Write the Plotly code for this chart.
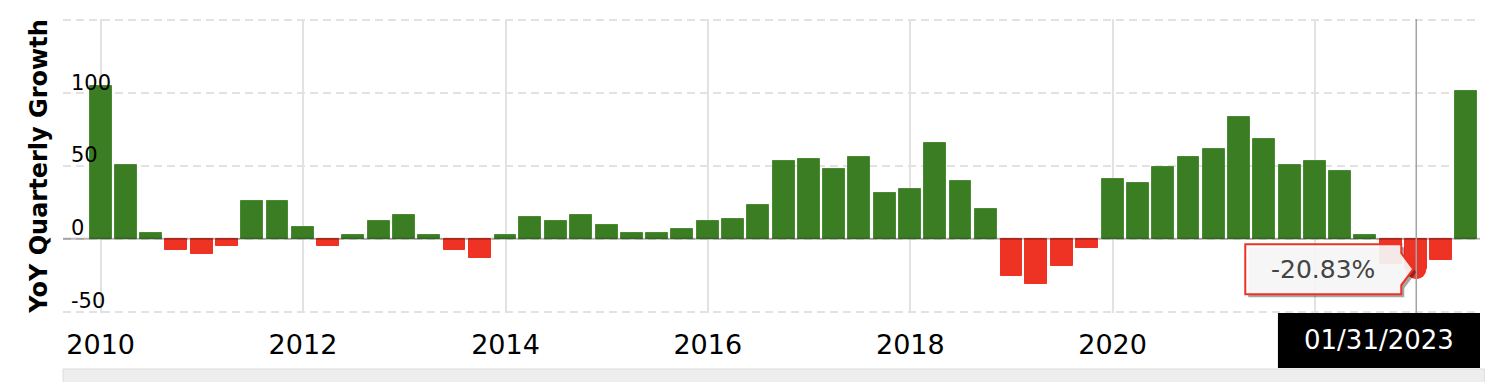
import pandas as pd
import plotly.graph_objects as go

# ---- data ----
dates = [
    "2010-01-31", "2010-04-30", "2010-07-31", "2010-10-31",
    "2011-01-31", "2011-04-30", "2011-07-31", "2011-10-31",
    "2012-01-31", "2012-04-30", "2012-07-31", "2012-10-31",
    "2013-01-31", "2013-04-30", "2013-07-31", "2013-10-31",
    "2014-01-31", "2014-04-30", "2014-07-31", "2014-10-31",
    "2015-01-31", "2015-04-30", "2015-07-31", "2015-10-31",
    "2016-01-31", "2016-04-30", "2016-07-31", "2016-10-31",
    "2017-01-31", "2017-04-30", "2017-07-31", "2017-10-31",
    "2018-01-31", "2018-04-30", "2018-07-31", "2018-10-31",
    "2019-01-31", "2019-04-30", "2019-07-31", "2019-10-31",
    "2020-01-31", "2020-04-30", "2020-07-31", "2020-10-31",
    "2021-01-31", "2021-04-30", "2021-07-31", "2021-10-31",
    "2022-01-31", "2022-04-30", "2022-07-31", "2022-10-31",
    "2023-01-31", "2023-04-30", "2023-07-31",
]
growth = [
    104.6, 50.9, 4.3, -7.8, -10.6, -5.1, 26.3, 26.3, 8.4, -5.1,
    2.9, 12.5, 16.7, 2.9, -7.8, -13.3, 2.9, 15.3, 12.5, 16.7,
    9.8, 4.3, 4.3, 7.1, 12.5, 13.9, 23.5, 53.7, 55.0, 48.2,
    56.4, 31.7, 34.5, 66.0, 40.0, 20.8, -25.6, -31.1, -18.8, -6.4,
    41.3, 38.6, 49.6, 56.4, 61.9, 83.8, 68.7, 50.9, 53.7, 46.8,
    2.9, -17.6, -20.83, -14.7, 101.6,
]
y_tickvals = [-50, 0, 50, 100, 150]
y_ticktext = ["-50", "0", "50", "100", ""]
hover_index = 52

# ---- styles ----
GREEN = "#3a7d22"
GREEN_EDGE = "#4b8a35"
RED = "#ee3224"
FONT = "DejaVu Sans"
Y_RANGE = [-50.9, 150.9]

d = pd.to_datetime(dates)
x_pos = d.to_period("M").to_timestamp()          # bars sit at the start of the period month
colors = [GREEN if v >= 0 else RED for v in growth]
edges = [GREEN_EDGE if v >= 0 else RED for v in growth]
bar_width_ms = 79 * 24 * 3600 * 1000

fig = go.Figure()
fig.add_trace(go.Bar(
    x=x_pos, y=growth, width=bar_width_ms,
    marker=dict(color=colors, line=dict(color=edges, width=1)),
    hoverinfo="skip",
))

hx = x_pos[hover_index]
hv = growth[hover_index]

# hover bullet (on the overlaying label axis, same range)
fig.add_trace(go.Scatter(
    x=[hx], y=[hv], mode="markers", yaxis="y2",
    marker=dict(color=RED, size=20, line=dict(width=0)),
    hoverinfo="skip",
))

shapes = []
# zero line
shapes.append(dict(type="line", xref="paper", x0=0, x1=1, yref="y", y0=0, y1=0,
                   line=dict(color="rgba(0,0,0,0.28)", width=2), layer="above"))
# cursor line
shapes.append(dict(type="line", xref="x", x0=hx, x1=hx, yref="paper", y0=0, y1=1,
                   line=dict(color="#a3a3a3", width=1.5), layer="above"))

tip_path = "M -171,25 L -15,25 L -15,16 L -3,0 L -15,-16 L -15,-25 L -171,-25 Z"
shadow_path = "M -168,22 L -12,22 L -12,13 L 0,-3 L -12,-19 L -12,-28 L -168,-28 Z"
shapes.append(dict(type="path", path=shadow_path, xsizemode="pixel", ysizemode="pixel",
                   xref="x", yref="y", xanchor=hx, yanchor=hv,
                   fillcolor="rgba(0,0,0,0.35)", line=dict(width=0), layer="above"))
shapes.append(dict(type="path", path=tip_path, xsizemode="pixel", ysizemode="pixel",
                   xref="x", yref="y", xanchor=hx, yanchor=hv,
                   fillcolor="rgba(255,255,255,0.9)", line=dict(color=RED, width=2), layer="above"))

# date cursor label box
shapes.append(dict(type="rect", xref="paper", yref="paper", x0=0.8574, x1=1.0, y0=-0.187, y1=0.0,
                   fillcolor="black", line=dict(width=0), layer="above"))
# scrollbar strip
shapes.append(dict(type="rect", xref="paper", yref="paper", x0=0.0, x1=1.003, y0=-0.26, y1=-0.1905,
                   fillcolor="#eeeeee", line=dict(color="#dcdcdc", width=1), layer="above"))

annotations = [
    dict(x=hx, y=hv, xref="x", yref="y", xshift=-93, yshift=0, showarrow=False,
         xanchor="center", yanchor="middle",
         text=f"{hv:.2f}%", font=dict(family=FONT, size=25, color="#444444")),
    dict(x=0.9287, y=-0.0918, xref="paper", yref="paper", showarrow=False,
         xanchor="center", yanchor="middle",
         text=d[hover_index].strftime("%m/%d/%Y"),
         font=dict(family=FONT, size=26, color="white")),
]

fig.update_layout(
    width=1492, height=382,
    margin=dict(l=63, r=12, t=19, b=69),
    paper_bgcolor="white", plot_bgcolor="white",
    showlegend=False, bargap=0,
    shapes=shapes, annotations=annotations,
    font=dict(family=FONT, color="black"),
)
fig.update_xaxes(
    type="date", range=["2009-08-18", "2023-08-19"],
    tick0="2010-01-01", dtick="M24", tickformat="%Y",
    showgrid=True, gridcolor="#e2e2e2", gridwidth=1.5,
    zeroline=False, showline=False, ticks="",
    tickfont=dict(family=FONT, size=27, color="black"),
    ticklabelstandoff=13,
)
fig.update_layout(
    yaxis=dict(
        range=Y_RANGE, tickvals=y_tickvals, showticklabels=False,
        showgrid=True, gridcolor="#e2e2e2", gridwidth=2, griddash="8px,5px",
        zeroline=False, showline=False, ticks="",
        title=dict(text="YoY Quarterly Growth", standoff=7,
                   font=dict(family=FONT, size=24, color="black", weight="bold")),
    ),
    # labels drawn to the right of the plot's left edge (left-aligned, above each gridline)
    yaxis2=dict(
        overlaying="y", anchor="free", position=0, side="right",
        range=Y_RANGE, tickvals=y_tickvals, ticktext=y_ticktext,
        ticklabelposition="outside", ticklabelshift=-11, ticklabelstandoff=7,
        showgrid=False, zeroline=False, showline=False, ticks="",
        tickfont=dict(family=FONT, size=21, color="black"),
    ),
)

fig.write_html("out.html")
